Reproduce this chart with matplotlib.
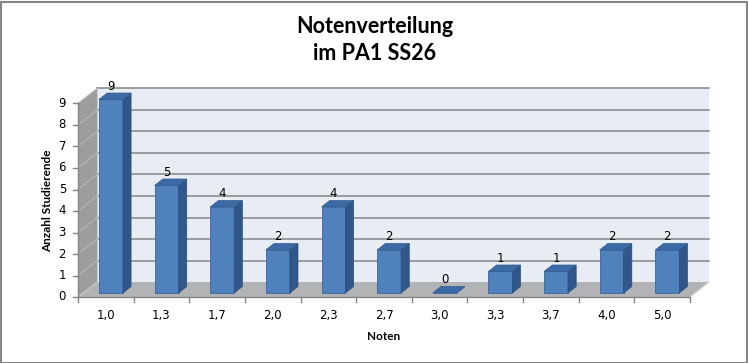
import numpy as np
import matplotlib
matplotlib.use('Agg')
import matplotlib.pyplot as plt
from matplotlib.patches import Polygon, Rectangle

# Daten
noten = ['1,0', '1,3', '1,7', '2,0', '2,3', '2,7', '3,0', '3,3', '3,7', '4,0', '5,0']
anzahl = [9, 5, 4, 2, 4, 2, 0, 1, 1, 2, 2]
yticks = list(range(10))
titel = 'Notenverteilung\nim PA1 SS26'

W, H = 748, 363
fig = plt.figure(figsize=(W/100, H/100), dpi=100)
ax = fig.add_axes([0, 0, 1, 1])

# Pixelgeometrie der Vorderkante -> Datenkoordinaten
x0px, x1px, basepx, unitpx = 78, 690, 297, 21.5
n = len(noten)
catpx = (x1px - x0px) / n
ax.set_xlim(-x0px/catpx, (W - x0px)/catpx)
ax.set_ylim((basepx - H)/unitpx, basepx/unitpx)
ax.axis('off')

ymax = 9
Dx, Dy = 19/catpx, 15/unitpx   # Tiefenversatz (schräge Projektion)

def off(x, y, d):
    return (x + d*Dx, y + d*Dy)

# Rückwand
ax.add_patch(Polygon([off(0, 0, 1), off(n, 0, 1), off(n, ymax, 1), off(0, ymax, 1)],
                     closed=True, fc='#E8ECF5', ec='none', zorder=1))
# Seitenwand
ax.add_patch(Polygon([(0, 0), off(0, 0, 1), off(0, ymax, 1), (0, ymax)],
                     closed=True, fc='#9D9D9D', ec='none', zorder=1))
# Boden
ax.add_patch(Polygon([(0, 0), (n, 0), off(n, 0, 1), off(0, 0, 1)],
                     closed=True, fc='#B2B3B5', ec='none', zorder=1))

# Gitterlinien
for k in yticks[1:]:
    ax.plot([off(0, k, 1)[0], off(n, k, 1)[0]], [k + Dy, k + Dy], color='#8E8E8E', lw=1.2, zorder=2)
    ax.plot([0, Dx], [k, k + Dy], color='#B5B5B5', lw=0.8, zorder=2)
ax.plot([Dx, Dx], [Dy, ymax + Dy], color='#C8C8C8', lw=0.8, zorder=2)
ax.plot([0, Dx], [0, Dy], color='#C8C8C8', lw=0.8, zorder=2)
ax.plot([n, n + Dx], [0, Dy], color='#D0D0D0', lw=0.8, zorder=2)

# Achsen
ax.plot([0, 0], [0, ymax], color='#868686', lw=1, zorder=3)
ax.plot([0, n], [0, 0], color='#868686', lw=1, zorder=3)
tick = 5/catpx
for k in yticks:
    ax.plot([-tick, 0], [k, k], color='#868686', lw=1, zorder=3)
    ax.text(-12/catpx, k, str(k), ha='right', va='center', fontsize=8.5, color='black')
for i in range(n + 1):
    ax.plot([i, i], [0, -5/unitpx], color='#868686', lw=1, zorder=3)

# Balken
w = 0.43
d0, d1 = 0.27, 0.70
for i, (lab, v) in enumerate(zip(noten, anzahl)):
    xa = i + (1 - w)/2
    xb = xa + w
    fa = off(xa, 0, d0)
    ax.add_patch(Rectangle(fa, w, v, fc='#4F81BD', ec='#3A679E', lw=0.6, zorder=5))
    ax.add_patch(Polygon([off(xb, 0, d0), off(xb, 0, d1), off(xb, v, d1), off(xb, v, d0)],
                         closed=True, fc='#30568A', ec='#2A4C7A', lw=0.5, zorder=5))
    ax.add_patch(Polygon([off(xa, v, d0), off(xb, v, d0), off(xb, v, d1), off(xa, v, d1)],
                         closed=True, fc='#3B6AA6', ec='#2F5A8E', lw=0.5, zorder=6))
    ax.text(fa[0] + w/2, v + d1*Dy + 0.02, str(v), ha='center', va='bottom', fontsize=8.5, color='black', zorder=7)
    ax.text(i + 0.5, -19/unitpx, lab, ha='center', va='center', fontsize=8.5, color='black')

# Beschriftungen
ax.text((384 - x0px)/catpx, (basepx - 336)/unitpx, 'Noten', ha='center', va='center',
        fontsize=8.5, fontweight='bold', family='Lato')
ax.text((48 - x0px)/catpx, (basepx - 201)/unitpx, 'Anzahl Studierende', ha='center', va='center',
        rotation=90, fontsize=8.5, fontweight='bold', family='Lato')
ax.text((375 - x0px)/catpx, (basepx - 40)/unitpx, titel, ha='center', va='center',
        fontsize=15.5, fontweight='bold', family='Lato', linespacing=1.4)

# Rahmen
fig.patches.append(Rectangle((0.5/W, 0.5/H), 1 - 2/W, 1 - 2/H, transform=fig.transFigure,
                             fill=False, ec='#868686', lw=1.5))

fig.savefig('out.png', dpi=100)
